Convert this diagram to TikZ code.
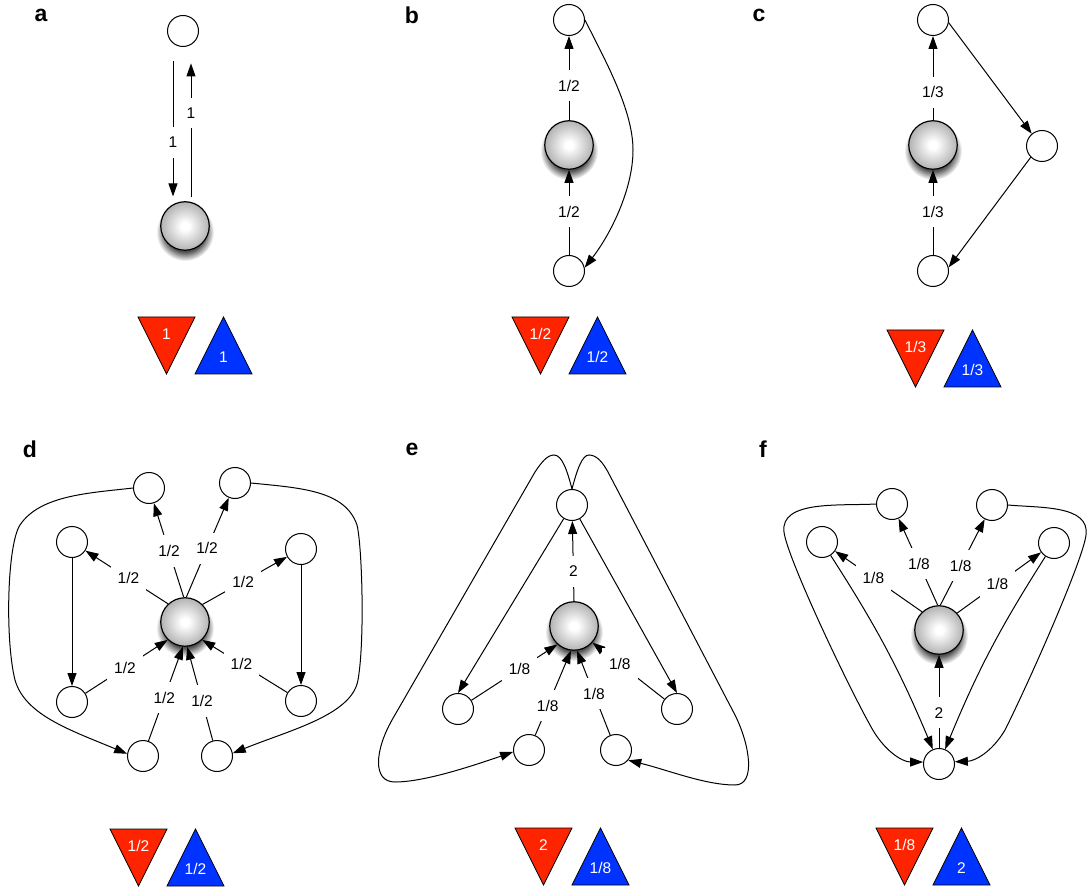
\documentclass[tikz,border=0pt]{standalone}
\usepackage{fontspec}
\setmainfont{Liberation Sans}
\usetikzlibrary{arrows.meta}
\pgfdeclareradialshading{ballshade}{\pgfpoint{0bp}{0bp}}{color(0bp)=(white); color(4bp)=(white); color(25bp)=(black!30); color(50bp)=(black!30)}
\pgfdeclareradialshading{shadowshade}{\pgfpoint{0bp}{0bp}}{color(0bp)=(black!75); color(17bp)=(black!68); color(25bp)=(white); color(50bp)=(white)}
\definecolor{trired}{RGB}{255,36,0}
\definecolor{triblue}{RGB}{0,51,255}
\tikzset{
  sn/.style={circle, draw, line width=1pt, minimum size=31pt, inner sep=0pt, fill=white},
  bn/.style={circle, draw, line width=1.2pt, minimum size=48.5pt, inner sep=0pt, shade, shading=ballshade},
  arr/.style={line width=1pt, -{Triangle[length=13pt,width=9pt]}},
  lbl/.style={fill=white, inner xsep=7pt, inner ysep=10pt, font=\fontsize{15.5}{18}\selectfont},
  plab/.style={font=\bfseries\fontsize{23}{26}\selectfont, inner sep=0pt},
  tri/.style={line width=0.8pt, draw=black},
  tritxt/.style={text=white, font=\fontsize{15.5}{18}\selectfont, inner sep=0pt},
}
\newcommand{\ballnode}[3]{\shade[shading=shadowshade] (#2,#3+6) circle[radius=29pt]; \node[bn] (#1) at (#2,#3) {};}
\newcommand{\tripair}[5]{%
  \filldraw[fill=trired, tri] (#2,#3) -- (#2+57,#3) -- (#2+28.5,#3+57) -- cycle;
  \node[tritxt] (#1r) at (#2+28.5,#3+17) {#4};
  \filldraw[fill=triblue, tri] (#2+57,#3+57) -- (#2+114,#3+57) -- (#2+85.5,#3) -- cycle;
  \node[tritxt] (#1b) at (#2+85.5,#3+40) {#5};
}
\begin{document}
\begin{tikzpicture}[x=1pt,y=-1pt]
\useasboundingbox (0,0) rectangle (1087,890);
% ---------------- a
\node[plab] (la) at (41,15) {a};
\ballnode{A}{185}{226}
\node[sn] (a1) at (183,31) {};
\draw[arr] ([xshift=-10pt,yshift=-14.4pt]a1.south) -- node[lbl,pos=0.6]{1} ([xshift=-12pt,yshift=4.7pt]A.north);
\draw[arr] ([xshift=6pt,yshift=3.7pt]A.north) -- node[lbl,pos=0.63]{1} ([xshift=8pt,yshift=-16.4pt]a1.south);
\tripair{ta}{138}{317}{1}{1}
% ---------------- b
\node[plab] (lb) at (412,15) {b};
\ballnode{B}{569}{145}
\node[sn] (b1) at (569,20) {};
\node[sn] (b2) at (569,271) {};
\draw[arr] (B) -- node[lbl,pos=0.41]{1/2} (b1);
\draw[arr] (b2) -- node[lbl,pos=0.51]{1/2} (B);
\draw[arr] (b1.east) .. controls (605,60) and (633,110) .. (633,150) .. controls (633,190) and (610,235) .. (b2.12);
\tripair{tb}{512}{317}{1/2}{1/2}
% ---------------- c
\node[plab] (lc) at (759,15) {c};
\ballnode{C}{933}{145}
\node[sn] (c1) at (933,20) {};
\node[sn] (c2) at (1042,146) {};
\node[sn] (c3) at (933,271) {};
\draw[arr] (C) -- node[lbl,pos=0.33]{1/3} (c1);
\draw[arr] (c3) -- node[lbl,pos=0.51]{1/3} (C);
\draw[arr] (c1.350) -- (c2.130);
\draw[arr] (c2.225) -- (c3.13);
\tripair{tc}{887}{330}{1/3}{1/3}
% ---------------- d
\node[plab] (ld) at (30,449) {d};
\ballnode{D}{185}{622}
\node[sn] (d1) at (149,488) {};
\node[sn] (d2) at (235,483) {};
\node[sn] (d3) at (72,542) {};
\node[sn] (d4) at (301,549) {};
\node[sn] (d5) at (72,702) {};
\node[sn] (d6) at (301,701) {};
\node[sn] (d7) at (143,756) {};
\node[sn] (d8) at (217,756) {};
\draw[arr] (D.93) -- node[lbl,pos=0.49]{1/2} (d1);
\draw[arr] (D.87) -- node[lbl,pos=0.49]{1/2} (d2);
\draw[arr] (D.133) -- node[lbl,pos=0.48]{1/2} (d3);
\draw[arr] (D.45) -- node[lbl,pos=0.48]{1/2} (d4);
\draw[arr] (d5) -- node[lbl,pos=0.48]{1/2} (D.226);
\draw[arr] (d6) -- node[lbl,pos=0.54]{1/2} (D.314);
\draw[arr] (d7) -- node[lbl,pos=0.46]{1/2} (D.265);
\draw[arr] (d8) -- node[lbl,pos=0.42]{1/2} (D.275);
\draw[arr] (d3) -- (d5);
\draw[arr] (d4) -- (d6);
\draw[arr] (d1.west) .. controls (90,493) and (40,495) .. (20,525) .. controls (7,545) and (5,640) .. (15,680) .. controls (25,715) and (70,730) .. (d7.172);
\draw[arr] (d2.east) .. controls (300,488) and (345,490) .. (357,525) .. controls (362,545) and (365,640) .. (358,680) .. controls (352,715) and (290,730) .. (d8.10);
\tripair{td}{110}{829}{1/2}{1/2}
% ---------------- e
\node[plab] (le) at (412,449) {e};
\ballnode{E}{574}{626}
\node[sn] (e1) at (572,505) {};
\node[sn] (e2) at (458,709) {};
\node[sn] (e3) at (677,709) {};
\node[sn] (e4) at (529,750) {};
\node[sn] (e5) at (616,750) {};
\draw[arr] (E.90) -- node[lbl,pos=0.37]{2} (e1);
\draw[arr] (e2) -- node[lbl,pos=0.56]{1/8} (E.228);
\draw[arr] (e4) -- node[lbl,pos=0.35]{1/8} (E.263);
\draw[arr] (e5) -- node[lbl,pos=0.49]{1/8} (E.277);
\draw[arr] (e3) -- node[lbl,pos=0.62]{1/8} (E.318);
\draw[arr] (e1) -- (e2.north);
\draw[arr] (e1) -- (e3.north);
\draw[arr] (e1.north) .. controls (567,470) and (562,455) .. (554,455) .. controls (547,455) and (541,463) .. (535,472) -- (392,720) .. controls (375,750) and (372,782) .. (395,782) .. controls (425,782) and (475,765) .. (e4.187);
\draw[arr] (e1.north) .. controls (577,470) and (582,455) .. (589,455) .. controls (597,455) and (603,463) .. (608,472) -- (735,715) .. controls (750,745) and (756,785) .. (735,785) .. controls (705,785) and (668,770) .. (e5.-40);
\tripair{te}{515}{828}{2}{1/8}
% ---------------- f
\node[plab] (lf) at (763,449) {f};
\ballnode{F}{939}{630}
\node[sn] (f1) at (892,504) {};
\node[sn] (f2) at (992,505) {};
\node[sn] (f3) at (822,542) {};
\node[sn] (f4) at (1054,543) {};
\node[sn] (f5) at (939,764) {};
\draw[arr] (F.93) -- node[lbl,pos=0.48]{1/8} (f1);
\draw[arr] (F.87) -- node[lbl,pos=0.46]{1/8} (f2);
\draw[arr] (F.133) -- node[lbl,pos=0.56]{1/8} (f3);
\draw[arr] (F.43) -- node[lbl,pos=0.48]{1/8} (f4);
\draw[arr] (f5) -- node[lbl,pos=0.38]{2} (F);
\draw[arr] (f3) to[bend left=5] (f5);
\draw[arr] (f4) to[bend right=5] (f5);
\draw[arr] (f1.west) .. controls (840,506) and (780,500) .. (784,532) .. controls (787,557) and (845,680) .. (870,725) .. controls (883,750) and (902,762) .. (f5.173);
\draw[arr] (f2.east) .. controls (1040,508) and (1090,505) .. (1086,535) .. controls (1083,560) and (1030,680) .. (1005,730) .. controls (992,752) and (975,761) .. (f5.8);
\tripair{tf}{876}{828}{1/8}{2}
\end{tikzpicture}
\end{document}
